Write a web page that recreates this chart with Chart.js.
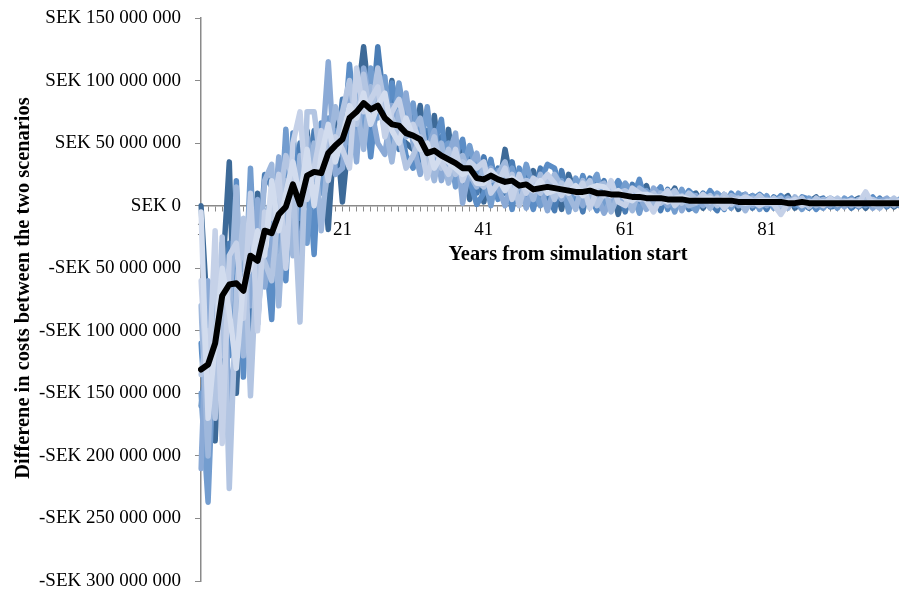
<!DOCTYPE html>
<html>
<head>
<meta charset="utf-8">
<script src="https://cdn.jsdelivr.net/npm/chart.js@4"></script>
<style>
  html, body { margin: 0; padding: 0; background: #fff; overflow: hidden; }
  #wrap { width: 899px; height: 590px; overflow: hidden; position: relative; }
  canvas { display: block; }
</style>
</head>
<body>
<div id="wrap"><canvas id="chart" width="903" height="590"></canvas></div>
<script>
// Years 1..100 since the simulation started
const years = Array.from({ length: 100 }, (_, i) => i + 1);
const labelledYears = [1, 21, 41, 61, 81];

// Y axis range and step, in millions of SEK
const yMin = -300, yMax = 150, yStep = 50;

// Cost difference per simulation run (million SEK)
const run1 = [0,-95,-188,-60,35,-150,-40,-90,10,-60, -50,10,-30,40,-20,60,10,45,-19,70,
  3,60,80,127,75,105,60,100,55,50, 45,80,30,72,25,61,20,45,5,35,
  3,35,10,45,15,25,0,28,5,20, 20,-3,25,8,15,0,22,5,18,-7,
  15,0,10,16,-3,12,5,14,0,8, 10,-2,6,9,0,8,-3,5,8,2,
  6,0,4,8,-2,5,3,7,0,4, 5,0,3,6,-2,4,2,5,-1,3];
const run2 = [-160,-120,-60,-140,-30,-95,-20,-110,-55,25, 15,-40,25,5,50,0,60,20,55,30,
  85,40,90,95,60,127,75,90,45,75, 70,35,60,40,55,30,50,15,40,10,
  39,15,30,10,35,5,25,10,30,8, -4,28,5,18,-5,22,10,20,0,15,
  -5,17,3,8,12,-4,13,2,10,-3, 0,10,2,-4,9,3,7,9,-2,6,
  -3,7,2,0,6,2,-2,4,6,-1, 0,5,-2,3,5,0,6,-1,4,2];
const run3 = [-110,-185,-130,-40,-120,20,-137,-15,-75,-30, -91,20,-60,58,-10,40,-39,66,30,60,
  40,113,55,95,39,90,60,98,70,40, 30,60,25,50,69,20,40,53,20,1,
  10,37,5,25,-3,30,15,-3,20,33, 30,10,15,0,24,8,-4,12,10,20,
  10,5,21,0,8,15,-3,8,4,12, 6,3,12,5,-3,10,2,-1,5,9,
  4,2,8,3,0,7,5,-3,3,6, 3,2,6,-1,3,7,0,3,5,-1];
const run4 = [-150,-237,-90,-100,-60,-45,-100,30,-95,-10, 5,-35,61,-20,30,-30,45,10,70,40,
  70,50,100,60,110,70,103,50,98,65, 82,45,79,35,45,50,15,30,48,25,
  25,0,28,20,30,10,33,15,0,15, 10,20,-5,22,10,15,25,0,15,5,
  18,10,-6,12,5,3,10,-5,13,2, -4,8,0,10,5,-2,10,4,8,-3,
  8,-2,3,5,4,-3,6,2,-2,5, -2,6,1,4,0,3,5,0,2,6];
const run5 = [-210,-60,-150,-30,-160,-110,-55,-80,5,-65, -30,39,-10,30,-60,55,20,35,115,25,
  30,90,35,110,80,50,41,80,60,90, 50,25,45,60,20,40,58,2,30,42,
  20,30,15,0,20,20,-2,20,15,-4, 15,5,20,12,0,18,8,-6,5,12,
  3,12,8,-3,14,8,0,10,-4,6, 8,0,5,2,7,6,0,9,0,5,
  0,5,-1,6,2,4,0,5,4,0, 4,-1,5,2,6,-2,3,6,0,4];
const run6 = [-80,-200,-45,-120,-90,15,-120,-20,-60,20, 33,-80,20,-40,40,10,50,-20,40,79,
  60,75,80,45,95,85,65,35,75,55, 60,70,40,20,50,18,35,40,25,15,
  30,20,25,35,10,15,20,5,25,12, 25,15,8,-3,20,5,15,18,-5,8,
  8,-4,14,10,0,10,8,4,8,0, 2,6,-2,7,3,8,5,-4,6,3,
  5,3,6,-2,7,1,4,0,5,3, 2,4,0,5,3,2,-2,4,3,1];
const run7 = [-135,-100,-170,-25,-226,-70,-10,-152,-30,-45, -60,0,40,20,-93,75,75,30,60,45,
  75,100,65,105,70,110,80,70,55,30, 40,55,35,55,30,45,25,35,30,20,
  15,25,20,15,25,0,20,18,10,20, 5,18,12,15,12,20,0,10,12,10,
  12,8,5,6,10,2,6,12,2,10, 5,4,8,0,9,1,6,3,2,8,
  2,6,0,4,3,6,-1,6,1,2, 6,1,3,0,4,5,2,1,6,0];
const run8 = [-60,-150,-20,-190,-40,-30,-90,10,-100,-5, -10,25,-50,50,75,5,30,60,20,55,
  45,30,110,75,85,95,55,75,85,60, 65,50,22,45,35,25,45,20,35,30,
  35,10,18,30,5,25,10,22,18,25, 18,8,20,10,18,-2,12,8,20,3,
  0,14,10,4,-5,6,12,0,6,4, 3,9,3,6,-2,5,4,7,4,0,
  3,1,-7,2,5,0,3,3,0,6, 1,3,4,2,11,1,3,2,1,5];
const run9 = [-5,-170,-110,-50,-85,-130,-60,-50,-20,-40, 20,-20,10,35,5,45,0,40,65,35,
  55,80,70,90,65,80,90,60,50,70, 55,45,50,30,40,35,30,25,28,18,
  18,28,22,12,22,18,15,12,20,10, 12,14,10,16,8,14,16,15,8,12,
  6,4,9,9,7,7,3,6,7,5, 4,5,6,3,5,4,3,2,3,4,
  4,4,3,3,2,3,2,2,3,2, 3,2,2,3,2,3,2,3,2,2];

// Average over all runs (million SEK)
const meanDiff = [-131,-127,-110,-72,-63,-62,-68,-40,-44,-20, -22,-7,-1,17,1,24,27,26,42,48,
  53,70,75,82,77,80,70,65,64,58, 56,53,42,44,40,37,34,30,30,22,
  21,24,21,19,20,16,17,13,14,15, 14,13,12,11,11,12,10,10,9,9,
  8,7,7,6,6,6,5,5,5,4, 4,4,4,4,4,4,3,3,3,3,
  3,3,3,2,2,3,2,2,2,2, 2,2,2,2,2,2,2,2,2,2];

const runs = [run1, run2, run3, run4, run5, run6, run7, run8, run9];
const runColors = ['#3d6a98', '#4a7db5', '#5b8dc6', '#739dcf', '#8baad6',
                   '#9fb8dc', '#b3c5e2', '#c5d1e8', '#d2dcee'];

const FONT = 'Liberation Serif';
const AXIS_GREY = '#8a8a8a';

function sek(millions) {
  const n = Math.round(Math.abs(millions) * 1e6);
  const s = n.toString().replace(/\B(?=(\d{3})+(?!\d))/g, ' ');
  return (millions < 0 ? '-' : '') + 'SEK ' + s;
}

const datasets = runs.map((r, i) => ({
  label: 'Run ' + (i + 1),
  data: r,
  borderColor: runColors[i],
  borderWidth: 5.5,
  xAxisID: 'x',
  order: runs.length - i + 1
}));
datasets.push({
  label: 'Average',
  data: meanDiff,
  borderColor: '#000000',
  borderWidth: 6,
  xAxisID: 'x',
  order: 0
});

// Axis titles placed beside the plot area
const axisTitles = {
  id: 'axisTitles',
  afterDraw(chart) {
    const ctx = chart.ctx;
    ctx.save();
    ctx.font = 'bold 20.4px "' + FONT + '"';
    ctx.fillStyle = '#000';
    ctx.textAlign = 'center';
    ctx.textBaseline = 'alphabetic';
    ctx.fillText('Years from simulation start', 568, 260);
    ctx.translate(29, 288);
    ctx.rotate(-Math.PI / 2);
    ctx.fillText('Differene in costs between the two scenarios', 0, 0);
    ctx.restore();
  }
};

const yearLabel = (v, i) => labelledYears.includes(years[i]) ? String(years[i]) : '';

// The x axes sit on the zero line, so they take no room in the layout
function flatAxis(scale) {
  scale.height = 0;
  scale.paddingLeft = 0;
  scale.paddingRight = 0;
  scale.paddingTop = 0;
  scale.paddingBottom = 0;
}

new Chart(document.getElementById('chart'), {
  type: 'line',
  data: { labels: years, datasets },
  plugins: [axisTitles],
  options: {
    responsive: false,
    animation: false,
    events: [],
    layout: { padding: { top: 18, bottom: 9, left: 0, right: 2 } },
    plugins: { legend: { display: false }, tooltip: { enabled: false } },
    elements: {
      point: { radius: 0 },
      line: { tension: 0, borderJoinStyle: 'round', borderCapStyle: 'round', fill: false }
    },
    scales: {
      // axis line and tick marks, beneath the lines
      x: {
        type: 'category',
        position: { y: 0 },
        afterFit: flatAxis,
        grid: { drawOnChartArea: false, drawTicks: true, tickLength: 5, color: AXIS_GREY, lineWidth: 1 },
        border: { display: true, color: AXIS_GREY, width: 1.5 },
        ticks: {
          autoSkip: false, maxRotation: 0, minRotation: 0, padding: 6,
          color: 'rgba(0,0,0,0)', font: { family: FONT, size: 19 },
          callback: yearLabel
        }
      },
      // year labels, above the lines
      xYears: {
        type: 'category',
        position: { y: 0 },
        z: 1,
        afterFit: flatAxis,
        grid: { display: false, drawTicks: false },
        border: { display: false },
        ticks: {
          autoSkip: false, maxRotation: 0, minRotation: 0, padding: 13,
          color: '#000', font: { family: FONT, size: 19 },
          callback: yearLabel
        }
      },
      y: {
        min: yMin, max: yMax,
        afterFit(scale) {
          scale.width = 201;
          scale.paddingTop = 0;
          scale.paddingBottom = 0;
        },
        grid: { drawOnChartArea: false, drawTicks: true, tickLength: 6, color: AXIS_GREY, lineWidth: 1 },
        border: { display: true, color: AXIS_GREY, width: 1.5 },
        ticks: {
          stepSize: yStep, padding: 14,
          color: '#000', font: { family: FONT, size: 19 },
          callback: (v) => sek(v)
        }
      }
    }
  }
});
</script>
</body>
</html>
